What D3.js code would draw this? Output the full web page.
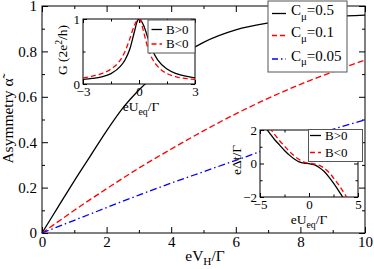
<!DOCTYPE html>
<html><head><meta charset="utf-8">
<script src="https://cdn.jsdelivr.net/npm/d3@7"></script>
<style>
body{margin:0;background:#fff}
svg{display:block}
svg text{font-family:"Liberation Serif","Times New Roman",Times,serif !important;fill:#000}
</style>
</head><body>
<svg id="c" width="374" height="269"></svg>
<script>
// ---------- data ----------
const vH = [0, 0.5, 1, 1.5, 2, 2.5, 3, 4, 5, 6, 7, 8, 9, 10];
const alphaC05  = [0, 0.115, 0.23, 0.34, 0.45, 0.55, 0.63, 0.75, 0.84, 0.895, 0.925, 0.943, 0.953, 0.96];
const alphaC01  = [0, 0.05, 0.10, 0.148, 0.195, 0.241, 0.286, 0.37, 0.45, 0.525, 0.593, 0.655, 0.71, 0.762];
const alphaC005 = [0, 0.028, 0.056, 0.084, 0.112, 0.14, 0.167, 0.22, 0.27, 0.32, 0.37, 0.415, 0.457, 0.498];
const seriesNames = ["0.5", "0.1", "0.05"];

const uG = [-3, -2.5, -2, -1.5, -1, -0.75, -0.5, -0.25, -0.1, 0, 0.1, 0.25, 0.5, 0.75, 1, 1.5, 2, 2.5, 3];
const gBpos = [0.07, 0.085, 0.11, 0.16, 0.27, 0.37, 0.53, 0.80, 0.96, 1.0, 0.98, 0.90, 0.69, 0.50, 0.37, 0.23, 0.16, 0.12, 0.095];
const gBneg = [0.095, 0.12, 0.16, 0.23, 0.37, 0.50, 0.69, 0.90, 0.98, 1.0, 0.96, 0.80, 0.53, 0.37, 0.27, 0.16, 0.11, 0.085, 0.07];

const uT = [-5, -4.5, -4, -3.5, -3, -2.5, -2, -1.5, -1, -0.5, 0, 0.5, 1, 1.5, 2, 2.5, 3, 3.5, 4, 4.5, 5];
const tBpos = [2.6, 2.2, 1.8, 1.42, 1.1, 0.78, 0.5, 0.27, 0.1, 0.02, -0.01, -0.07, -0.22, -0.45, -0.78, -1.17, -1.6, -2.06, -2.5, -3.0, -3.4];
const tBneg = [2.9, 2.5, 2.12, 1.73, 1.36, 1.04, 0.72, 0.45, 0.24, 0.08, 0.015, -0.02, -0.10, -0.26, -0.51, -0.86, -1.25, -1.69, -2.15, -2.6, -3.05];

const mainXMajor = [0, 2, 4, 6, 8, 10], mainXMinor = [1, 3, 5, 7, 9];
const mainYMajor = [0, 0.2, 0.4, 0.6, 0.8, 1], mainYMinor = [0.1, 0.3, 0.5, 0.7, 0.9];
const gXMajor = [-3, 0, 3], gXMinor = [-1.5, 1.5];
const gYMajor = [0, 1], gYMinor = [0.5];
const tXMajor = [-5, 0, 5], tXMinor = [-2.5, 2.5];
const tYMajor = [-2, 0, 2], tYMinor = [-1, 1];

// ---------- drawing ----------
const svg = d3.select("#c");
svg.append("rect").attr("width", 374).attr("height", 269).attr("fill", "#fff");
const FONT = '"Liberation Serif","Times New Roman",Times,serif';

function frameAxes(g, x, y, o) {
  const [x0, x1] = x.range(), [y0, y1] = y.range();
  g.append("rect").attr("x", x0).attr("y", y1).attr("width", x1 - x0).attr("height", y0 - y1)
    .attr("fill", "#fff").attr("stroke", "#000").attr("stroke-width", 1);
  [[d3.axisBottom(x), y0, true], [d3.axisTop(x), y1, false]].forEach(([ax, pos, lab]) => {
    g.append("g").attr("transform", `translate(0,${pos})`)
      .call(ax.tickValues(o.xMajor).tickSize(-o.major).tickSizeOuter(0).tickPadding(o.xPad)
        .tickFormat(lab ? o.xFmt : ""))
      .call(s => s.select(".domain").remove());
    g.append("g").attr("transform", `translate(0,${pos})`)
      .call((lab ? d3.axisBottom(x) : d3.axisTop(x)).tickValues(o.xMinor).tickSize(-o.minor).tickSizeOuter(0).tickFormat(""))
      .call(s => s.select(".domain").remove());
  });
  [[d3.axisLeft(y), x0, true], [d3.axisRight(y), x1, false]].forEach(([ax, pos, lab]) => {
    g.append("g").attr("transform", `translate(${pos},0)`)
      .call(ax.tickValues(o.yMajor).tickSize(-o.major).tickSizeOuter(0).tickPadding(o.yPad)
        .tickFormat(lab ? o.yFmt : ""))
      .call(s => s.select(".domain").remove());
    g.append("g").attr("transform", `translate(${pos},0)`)
      .call((lab ? d3.axisLeft(y) : d3.axisRight(y)).tickValues(o.yMinor).tickSize(-o.minor).tickSizeOuter(0).tickFormat(""))
      .call(s => s.select(".domain").remove());
  });
  g.selectAll(".tick line").attr("stroke", "#000");
  g.selectAll(".tick text").attr("font-family", FONT).attr("font-size", o.fs).attr("fill", "#000");
}

function subText(g, x, y, parts, fs, anchor, rotate) {
  const t = g.append("text").attr("font-size", fs).attr("font-family", FONT).attr("text-anchor", anchor || "start");
  if (rotate) t.attr("transform", `translate(${x},${y}) rotate(-90)`);
  else t.attr("x", x).attr("y", y);
  parts.forEach(p => {
    const ts = t.append("tspan").text(p.t);
    if (p.sub) ts.attr("font-size", fs * 0.72).attr("dy", p.sub);
    if (p.dy) ts.attr("dy", p.dy);
  });
  return t;
}

// ---- main panel ----
const x = d3.scaleLinear([0, 10], [42, 365]);
const y = d3.scaleLinear([0, 1], [233, 6]);
const gm = svg.append("g");
frameAxes(gm, x, y, {
  xMajor: mainXMajor, xMinor: mainXMinor, yMajor: mainYMajor, yMinor: mainYMinor,
  major: 6, minor: 3, xPad: 3, yPad: 5, fs: 15,
  xFmt: d => d3.format("d")(d), yFmt: d => (d === 0 || d === 1) ? d3.format("d")(d) : d3.format(".1f")(d)
});

const lineMain = d3.line().x(d => x(d[0])).y(d => y(d[1])).curve(d3.curveMonotoneX);
const mainSeries = [
  {v: alphaC05, color: "#000", dash: null},
  {v: alphaC01, color: "#ff0000", dash: "6,3"},
  {v: alphaC005, color: "#0000ff", dash: "7,3,1.5,3"}
];
mainSeries.forEach(s => {
  gm.append("path").datum(vH.map((d, i) => [d, s.v[i]])).attr("d", lineMain)
    .attr("fill", "none").attr("stroke", s.color).attr("stroke-width", 1.3)
    .attr("stroke-dasharray", s.dash);
});

// axis labels
subText(svg, 205, 261, [{t: "eV"}, {t: "H", sub: 4}, {t: "/Γ", dy: -4}], 15.5, "middle");
svg.append("text").attr("font-size", 15.5).attr("font-family", FONT).attr("text-anchor", "middle")
  .attr("transform", "translate(13,121) rotate(-90)").text("Asymmetry α\u0303");

// main legend
const lg = svg.append("g");
lg.append("rect").attr("x", 268).attr("y", 1).attr("width", 79).attr("height", 71)
  .attr("fill", "#fff").attr("stroke", "#555").attr("stroke-width", 1);
const legBase = [15, 37, 60.5];
mainSeries.forEach((s, i) => {
  lg.append("line").attr("x1", 272).attr("x2", 286).attr("y1", legBase[i] - 1.5).attr("y2", legBase[i] - 1.5)
    .attr("stroke", s.color).attr("stroke-width", 1.3).attr("stroke-dasharray", s.dash ? (i === 1 ? "5,3" : "6,3,1.5,3") : null);
  subText(lg, 291, legBase[i], [{t: "C"}, {t: "μ", sub: 4.5}, {t: "=" + seriesNames[i], dy: -4.5}], 15, "start");
});

// ---- inset 1: G ----
const xg = d3.scaleLinear([-3, 3], [83, 195]);
const yg = d3.scaleLinear([0, 1], [84, 19]);
const g1 = svg.append("g");
frameAxes(g1, xg, yg, {
  xMajor: gXMajor, xMinor: gXMinor, yMajor: gYMajor, yMinor: gYMinor,
  major: 4, minor: 2.5, xPad: 3, yPad: 3, fs: 13,
  xFmt: d3.format("d"), yFmt: d3.format("d")
});
g1.append("clipPath").attr("id", "clip1").append("rect")
  .attr("x", 83).attr("y", 19).attr("width", 112).attr("height", 65);
const lineG = d3.line().x(d => xg(d[0])).y(d => yg(d[1])).curve(d3.curveMonotoneX);
[[gBpos, "#000", null], [gBneg, "#ff0000", "5,3"]].forEach(([v, c, da]) => {
  g1.append("path").datum(uG.map((d, i) => [d, v[i]])).attr("d", lineG).attr("clip-path", "url(#clip1)")
    .attr("fill", "none").attr("stroke", c).attr("stroke-width", 1.3).attr("stroke-dasharray", da);
});
subText(g1, 141, 111, [{t: "eU"}, {t: "eq", sub: 4}, {t: "/Γ", dy: -4}], 13.5, "middle");
subText(g1, 67, 50, [{t: "G (2e"}, {t: "2", sub: -5}, {t: "/h)", dy: 5}], 13.5, "middle", true);
// legend 1
g1.append("rect").attr("x", 148).attr("y", 20).attr("width", 47).attr("height", 33)
  .attr("fill", "#fff").attr("stroke", "#555");
[["B>0", "#000", null, 33.5], ["B<0", "#ff0000", "5,3", 48]].forEach(([t, c, da, b]) => {
  g1.append("line").attr("x1", 151.5).attr("x2", 162).attr("y1", b - 4).attr("y2", b - 4)
    .attr("stroke", c).attr("stroke-width", 1.3).attr("stroke-dasharray", da);
  g1.append("text").attr("x", 166).attr("y", b).attr("font-size", 13).attr("font-family", FONT).text(t);
});

// ---- inset 2: Δt ----
const xt = d3.scaleLinear([-5, 5], [260, 358]);
const yt = d3.scaleLinear([-2, 2], [197, 130]);
const g2 = svg.append("g");
frameAxes(g2, xt, yt, {
  xMajor: tXMajor, xMinor: tXMinor, yMajor: tYMajor, yMinor: tYMinor,
  major: 4, minor: 2.5, xPad: 3, yPad: 3, fs: 13,
  xFmt: d3.format("d"), yFmt: d3.format("d")
});
g2.append("clipPath").attr("id", "clip2").append("rect")
  .attr("x", 260).attr("y", 130).attr("width", 98).attr("height", 67);
const lineT = d3.line().x(d => xt(d[0])).y(d => yt(d[1])).curve(d3.curveMonotoneX);
[[tBpos, "#000", null], [tBneg, "#ff0000", "5,3"]].forEach(([v, c, da]) => {
  g2.append("path").datum(uT.map((d, i) => [d, v[i]])).attr("d", lineT).attr("clip-path", "url(#clip2)")
    .attr("fill", "none").attr("stroke", c).attr("stroke-width", 1.3).attr("stroke-dasharray", da);
});
subText(g2, 309, 224, [{t: "eU"}, {t: "eq", sub: 4}, {t: "/Γ", dy: -4}], 13.5, "middle");
g2.append("text").attr("font-size", 13.5).attr("font-family", FONT).attr("text-anchor", "middle")
  .attr("transform", "translate(241,160) rotate(-90)").text("eΔt/Γ");
// legend 2
g2.append("rect").attr("x", 308.5).attr("y", 129.5).attr("width", 54).attr("height", 32)
  .attr("fill", "#fff").attr("stroke", "#555");
[["B>0", "#000", null, 139.5], ["B<0", "#ff0000", "5,3", 156.5]].forEach(([t, c, da, b]) => {
  g2.append("line").attr("x1", 310).attr("x2", 321).attr("y1", b - 4).attr("y2", b - 4)
    .attr("stroke", c).attr("stroke-width", 1.3).attr("stroke-dasharray", da);
  g2.append("text").attr("x", 325).attr("y", b).attr("font-size", 13).attr("font-family", FONT).text(t);
});
</script>
</body></html>
